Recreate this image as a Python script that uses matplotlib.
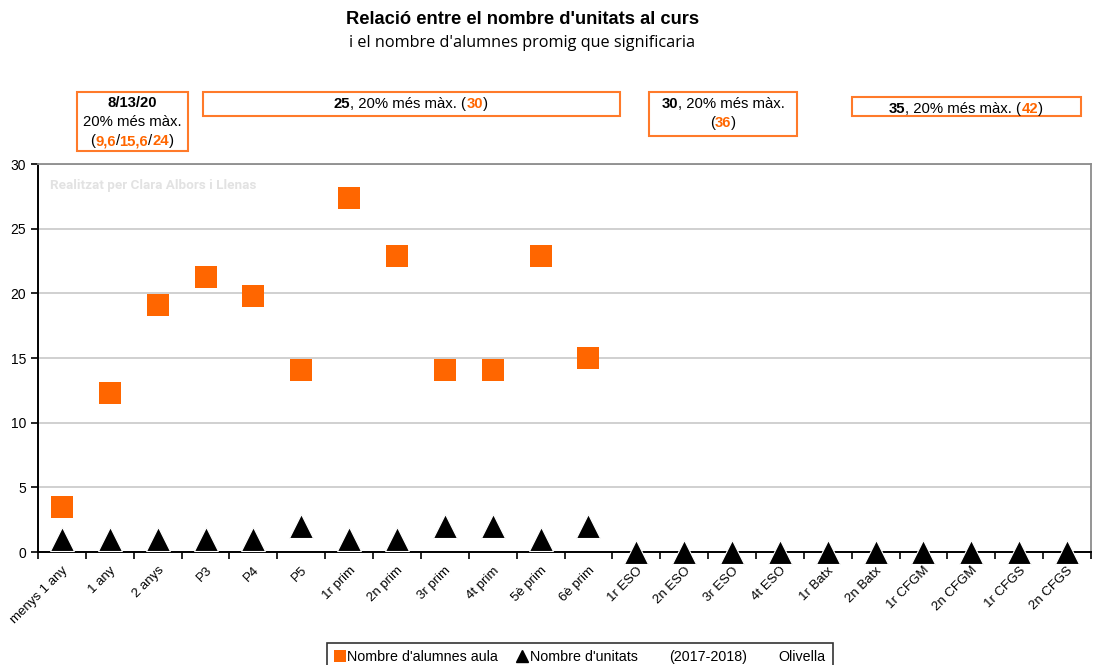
import matplotlib
matplotlib.use("Agg")
import matplotlib.pyplot as plt
from matplotlib.lines import Line2D
from matplotlib.patches import Rectangle
import numpy as np

plt.rcParams['font.family'] = ['Liberation Sans', 'DejaVu Sans']

cursos = ['menys 1 any', '1 any', '2 anys', 'P3', 'P4', 'P5', '1r prim', '2n prim',
          '3r prim', '4t prim', '5è prim', '6è prim', '1r ESO', '2n ESO', '3r ESO',
          '4t ESO', '1r Batx', '2n Batx', '1r CFGM', '2n CFGM', '1r CFGS', '2n CFGS']
alumnes_aula = [3.5, 12.3, 19.1, 21.3, 19.8, 14.1, 27.4, 22.9, 14.1, 14.1, 22.9, 15.0,
                np.nan, np.nan, np.nan, np.nan, np.nan, np.nan, np.nan, np.nan, np.nan, np.nan]
unitats = [1, 1, 1, 1, 1, 2, 1, 1, 2, 2, 1, 2, 0, 0, 0, 0, 0, 0, 0, 0, 0, 0]

ORANGE = '#FF6600'
W, H = 1093, 665

fig = plt.figure(figsize=(W / 100, H / 100), dpi=100)
ax = fig.add_axes([38 / W, 1 - 552 / H, (1091 - 38) / W, (552 - 164) / H])

x = np.arange(len(cursos))
ax.plot(x, alumnes_aula, linestyle='none', marker='s', markersize=16,
        color=ORANGE, markeredgewidth=0, zorder=4)
ax.plot(x, unitats, linestyle='none', marker='^', markersize=17, color='black',
        markeredgecolor='white', markeredgewidth=0.8, zorder=5, clip_on=False)

ax.set_xlim(-0.5, len(cursos) - 0.5)
ax.set_ylim(0, 30)
ax.set_yticks(range(0, 31, 5))
ax.set_xticks(x)
ax.set_xticklabels(cursos, rotation=45, ha='right', rotation_mode='anchor', fontsize=9.5)
ax.set_xticks(np.arange(-0.5, len(cursos), 1), minor=True)
ax.tick_params(axis='x', which='major', length=0, pad=9)
ax.tick_params(axis='x', which='minor', length=5, width=1.2, color='black')
ax.tick_params(axis='y', length=5, width=1.2, labelsize=10)

ax.grid(axis='y', color='#C8C8C8', linewidth=1.2)
ax.set_axisbelow(True)
for s in ['top', 'right']:
    ax.spines[s].set_color('#8C8C8C')
    ax.spines[s].set_linewidth(1.3)
for s in ['left', 'bottom']:
    ax.spines[s].set_color('black')
    ax.spines[s].set_linewidth(1.4)

ax.text(0.011, 0.945, 'Realitzat per Clara Albors i Llenas', transform=ax.transAxes,
        fontsize=9.7, fontweight='bold', color='#E2E2E2', va='center', ha='left',
        family=['Roboto', 'Liberation Sans'])

# title
fig.text(523 / W, 1 - 19 / H, "Relació entre el nombre d'unitats al curs",
         ha='center', va='center', fontsize=13.2, fontweight='bold')
fig.text(522 / W, 1 - 43 / H, "i el nombre d'alumnes promig que significaria",
         ha='center', va='center', fontsize=11.7, family=['Open Sans', 'DejaVu Sans'])


def caixa(x0, y0, x1, y1):
    r = Rectangle((x0 / W, 1 - y1 / H), (x1 - x0) / W, (y1 - y0) / H,
                  transform=fig.transFigure, facecolor='white',
                  edgecolor='#FF7A2A', linewidth=1.5)
    fig.add_artist(r)


def linia(xc, yc, parts, size=10.7):
    texts = []
    for s, c, w in parts:
        texts.append(fig.text(0, 1 - yc / H, s, color=c, fontweight=w,
                              fontsize=size, ha='left', va='center'))
    fig.canvas.draw()
    r = fig.canvas.get_renderer()
    widths = [t.get_window_extent(r).width for t in texts]
    xp = xc - sum(widths) / 2
    for t, wd in zip(texts, widths):
        t.set_x(xp / W)
        xp += wd


B, N = 'black', 'normal'
caixa(77, 92, 188, 151)
linia(132, 103, [('8/13/20', B, 'bold')])
linia(132, 122, [('20% més màx.', B, N)])
linia(132, 141, [('(', B, N), ('9,6', ORANGE, 'bold'), ('/', B, N), ('15,6', ORANGE, 'bold'),
                 ('/', B, N), ('24', ORANGE, 'bold'), (')', B, N)])

caixa(203, 92, 620, 116)
linia(411, 104, [('25', B, 'bold'), (', 20% més màx. (', B, N), ('30', ORANGE, 'bold'), (')', B, N)])

caixa(649, 92, 797, 136)
linia(723, 104, [('30', B, 'bold'), (', 20% més màx.', B, N)])
linia(723, 123, [('(', B, N), ('36', ORANGE, 'bold'), (')', B, N)])

caixa(852, 97, 1081, 116)
linia(966, 109, [('35', B, 'bold'), (', 20% més màx. (', B, N), ('42', ORANGE, 'bold'), (')', B, N)])

handles = [Line2D([], [], linestyle='none', marker='s', markersize=8, color=ORANGE, markeredgewidth=0),
           Line2D([], [], linestyle='none', marker='^', markersize=8, color='black'),
           Line2D([], [], linestyle='none'),
           Line2D([], [], linestyle='none')]
labels = ["Nombre d'alumnes aula", "Nombre d'unitats", '(2017-2018)', 'Olivella']
leg = fig.legend(handles, labels, loc='upper center', bbox_to_anchor=(580 / W, 1 - 643 / H),
                 ncol=4, frameon=True, fancybox=False, edgecolor='black', fontsize=10.3,
                 handlelength=0.8, handletextpad=0.1, columnspacing=1.3,
                 borderpad=0.5, borderaxespad=0)
leg.get_frame().set_linewidth(1.2)

fig.savefig('out.png', dpi=100)
